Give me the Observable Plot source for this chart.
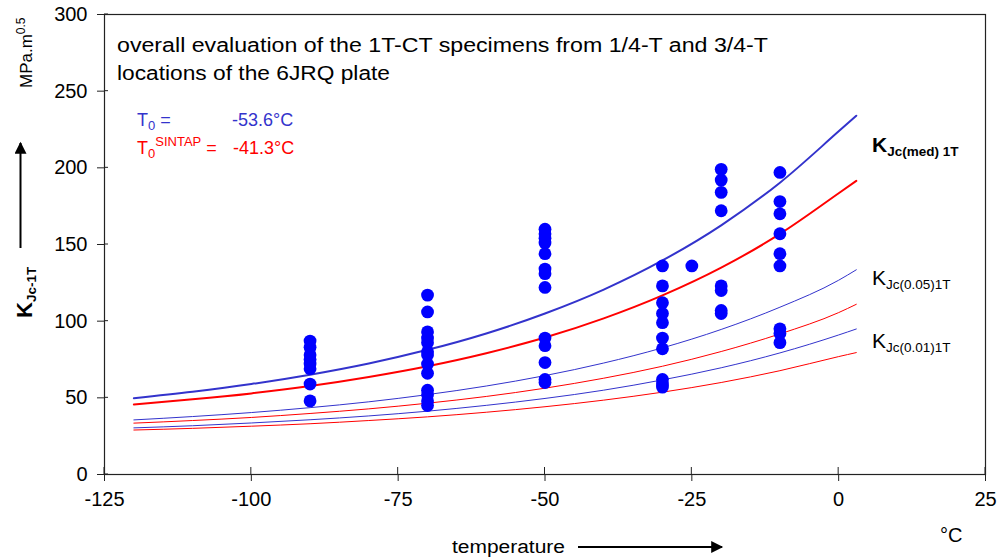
<!DOCTYPE html>
<html>
<head>
<meta charset="utf-8">
<script src="https://cdn.jsdelivr.net/npm/d3@7"></script>
<script src="https://cdn.jsdelivr.net/npm/@observablehq/plot@0.6"></script>
<style>
  html, body { margin: 0; padding: 0; background: #fff; }
  #chart { width: 1000px; height: 560px; }
  svg { font-family: "Liberation Sans", Arial, sans-serif; }
</style>
</head>
<body>
<div id="chart"></div>
<script>
// ---- data ----
const temps   = [-120, -110, -100, -90, -80, -70, -60, -50, -40, -30, -20, -10, 0, 3];
// blue curves: T0 = -53.6 °C
const blueMed = [49.8, 54.0, 59.0, 65.1, 72.4, 81.3, 92.0, 105.0, 120.6, 139.6, 162.5, 190.3, 223.8, 234.0];
const blue05  = [35.6, 37.8, 40.4, 43.6, 47.4, 52.1, 57.7, 64.5, 72.7, 82.6, 94.6, 109.1, 126.7, 133.5];
const blue01  = [30.4, 31.8, 33.6, 35.7, 38.2, 41.3, 45.1, 49.6, 55.0, 61.7, 69.6, 79.3, 91.0, 94.9];
// red curves: T0 SINTAP = -41.3 °C
const redMed  = [45.7, 49.0, 52.9, 57.7, 63.6, 70.6, 79.1, 89.3, 101.8, 116.8, 134.9, 156.9, 183.4, 191.5];
const red05   = [33.5, 35.2, 37.2, 39.8, 42.8, 46.5, 50.9, 56.3, 62.8, 70.6, 80.2, 91.7, 105.6, 111.0];
const red01   = [29.0, 30.1, 31.5, 33.1, 35.2, 37.6, 40.6, 44.2, 48.5, 53.7, 60.0, 67.7, 76.9, 79.5];

// measured specimens
const testT = [
  -90,-90,-90,-90,-90,-90,-90,-90,
  -70,-70,-70,-70,-70,-70,-70,-70,-70,-70,-70,-70,-70,
  -50,-50,-50,-50,-50,-50,-50,-50,-50,-50,-50,-50,-50,
  -30,-30,-30,-30,-30,-30,-30,-30,-30,-30,
  -25,
  -20,-20,-20,-20,-20,-20,-20,-20,
  -10,-10,-10,-10,-10,-10,-10,-10,-10
];
const testK = [
  87, 83, 78, 75, 72, 69, 59, 48,
  117, 106, 93, 89, 86, 80, 78, 72, 66, 55, 52, 48, 45,
  160, 157, 154, 151, 144, 134, 131, 122, 89, 84, 73, 62, 60,
  136, 123, 112, 105, 99, 89, 82, 62, 59, 57,
  136,
  199, 192, 184, 172, 123, 120, 107, 105,
  197, 178, 170, 157, 144, 136, 95, 92, 86
];

const xTicks = [-125, -100, -75, -50, -25, 0, 25];
const yTicks = [0, 50, 100, 150, 200, 250, 300];

// ---- build tables ----
const curves = [
  {name: "blueMed", vals: blueMed, color: "#3333cc", w: 2},
  {name: "blue05",  vals: blue05,  color: "#3333cc", w: 1},
  {name: "blue01",  vals: blue01,  color: "#3333cc", w: 1},
  {name: "redMed",  vals: redMed,  color: "#ff0000", w: 2},
  {name: "red05",   vals: red05,   color: "#ff0000", w: 1},
  {name: "red01",   vals: red01,   color: "#ff0000", w: 1}
];
const lineMarks = curves.map(c =>
  Plot.line(temps.map((t, i) => ({T: t, K: c.vals[i]})),
    {x: "T", y: "K", stroke: c.color, strokeWidth: c.w, curve: "monotone-x"})
);
const pts = testT.map((t, i) => ({T: t, K: testK[i]}));
const fmt = d => String(d);

const plot = Plot.plot({
  width: 1000,
  height: 560,
  marginLeft: 104,
  marginRight: 15,
  marginTop: 14,
  marginBottom: 86,
  style: {fontFamily: "'Liberation Sans', Arial, sans-serif", fontSize: "20px", color: "#000", background: "#fff"},
  x: {domain: [-125, 25]},
  y: {domain: [0, 300]},
  marks: [
    Plot.frame({stroke: "#222", strokeWidth: 1.2}),
    Plot.axisY(yTicks, {anchor: "left", tickSize: 7, tickPadding: 10, tickFormat: fmt, label: null, fontSize: 20, stroke: "#222"}),
    Plot.axisX(xTicks, {anchor: "bottom", tickSize: 7, tickPadding: 10, tickFormat: fmt, label: null, fontSize: 20, stroke: "#222"}),
    ...lineMarks,
    Plot.dot(pts, {x: "T", y: "K", r: 6.4, fill: "#0000ff", stroke: "none"})
  ]
});
document.getElementById("chart").appendChild(plot);

// ---- annotations ----
const svg = d3.select(plot);
const xs = plot.scale("x"), ys = plot.scale("y");

// inner halves of the crossing tick marks
const tg = svg.append("g").attr("stroke", "#222").attr("stroke-width", 1);
yTicks.forEach(v => {
  const y = ys.apply(v), x0 = xs.apply(-125);
  tg.append("line").attr("x1", x0).attr("x2", x0 + 4).attr("y1", y).attr("y2", y);
});
xTicks.forEach(v => {
  const x = xs.apply(v), y0 = ys.apply(0);
  tg.append("line").attr("x1", x).attr("x2", x).attr("y1", y0).attr("y2", y0 - 7);
});

const defs = svg.append("defs");
defs.append("marker").attr("id", "ah").attr("viewBox", "0 0 10 10")
  .attr("refX", 9).attr("refY", 5).attr("markerWidth", 16).attr("markerHeight", 12)
  .attr("markerUnits", "userSpaceOnUse").attr("orient", "auto")
  .append("path").attr("d", "M0,0L10,5L0,10z").attr("fill", "#000");

const g = svg.append("g").attr("font-family", "'Liberation Sans', Arial, sans-serif")
  .attr("fill", "#000").attr("text-anchor", "start");

// title
g.append("text").attr("x", 117).attr("y", 52).attr("font-size", 20)
  .attr("textLength", 651).attr("lengthAdjust", "spacingAndGlyphs")
  .text("overall evaluation of the 1T-CT specimens from 1/4-T and 3/4-T");
g.append("text").attr("x", 117).attr("y", 80).attr("font-size", 20)
  .attr("textLength", 273).attr("lengthAdjust", "spacingAndGlyphs")
  .text("locations of the 6JRQ plate");

// T0 legend
const t1 = g.append("text").attr("x", 137).attr("y", 126).attr("font-size", 18).attr("fill", "#3333cc");
t1.append("tspan").text("T");
t1.append("tspan").attr("font-size", 13).attr("dy", 4).text("0");
t1.append("tspan").attr("dy", -4).text(" =");
g.append("text").attr("x", 232).attr("y", 126).attr("font-size", 18).attr("fill", "#3333cc").text("-53.6°C");

const t2 = g.append("text").attr("x", 137).attr("y", 154).attr("font-size", 18).attr("fill", "#ff0000");
t2.append("tspan").text("T");
t2.append("tspan").attr("font-size", 13).attr("dy", 4).text("0");
t2.append("tspan").attr("font-size", 13).attr("dy", -12).text("SINTAP");
t2.append("tspan").attr("dy", 8).text(" =");
g.append("text").attr("x", 233).attr("y", 154).attr("font-size", 18).attr("fill", "#ff0000").text("-41.3°C");

// right-hand curve labels
function kLabel(x, y, sub, bold) {
  const t = g.append("text").attr("x", x).attr("y", y).attr("font-weight", bold ? "bold" : "normal");
  t.append("tspan").attr("font-size", 21).text("K");
  t.append("tspan").attr("font-size", 13.5).attr("dy", 4).text(sub);
  return t;
}
kLabel(872, 152, "Jc(med) 1T", true);
kLabel(872, 285, "Jc(0.05)1T", false);
kLabel(872, 348, "Jc(0.01)1T", false);

// y-axis labels (rotated)
const yl1 = g.append("text").attr("transform", "translate(32,88) rotate(-90)").attr("font-size", 17);
yl1.append("tspan").text("MPa.m");
yl1.append("tspan").attr("font-size", 12).attr("dy", -7).text("0.5");

const yl2 = g.append("text").attr("transform", "translate(32,318) rotate(-90)").attr("font-weight", "bold");
yl2.append("tspan").attr("font-size", 22).text("K");
yl2.append("tspan").attr("font-size", 13.5).attr("dy", 4).text("Jc-1T");

g.append("line").attr("x1", 20.5).attr("y1", 248).attr("x2", 20.5).attr("y2", 143)
  .attr("stroke", "#000").attr("stroke-width", 2).attr("marker-end", "url(#ah)");

// x-axis label
g.append("text").attr("x", 452).attr("y", 553).attr("font-size", 18)
  .attr("textLength", 113).attr("lengthAdjust", "spacingAndGlyphs").text("temperature");
g.append("line").attr("x1", 578).attr("y1", 547).attr("x2", 722).attr("y2", 547)
  .attr("stroke", "#000").attr("stroke-width", 2).attr("marker-end", "url(#ah)");
g.append("text").attr("x", 940).attr("y", 542).attr("font-size", 20).text("°C");
</script>
</body>
</html>
